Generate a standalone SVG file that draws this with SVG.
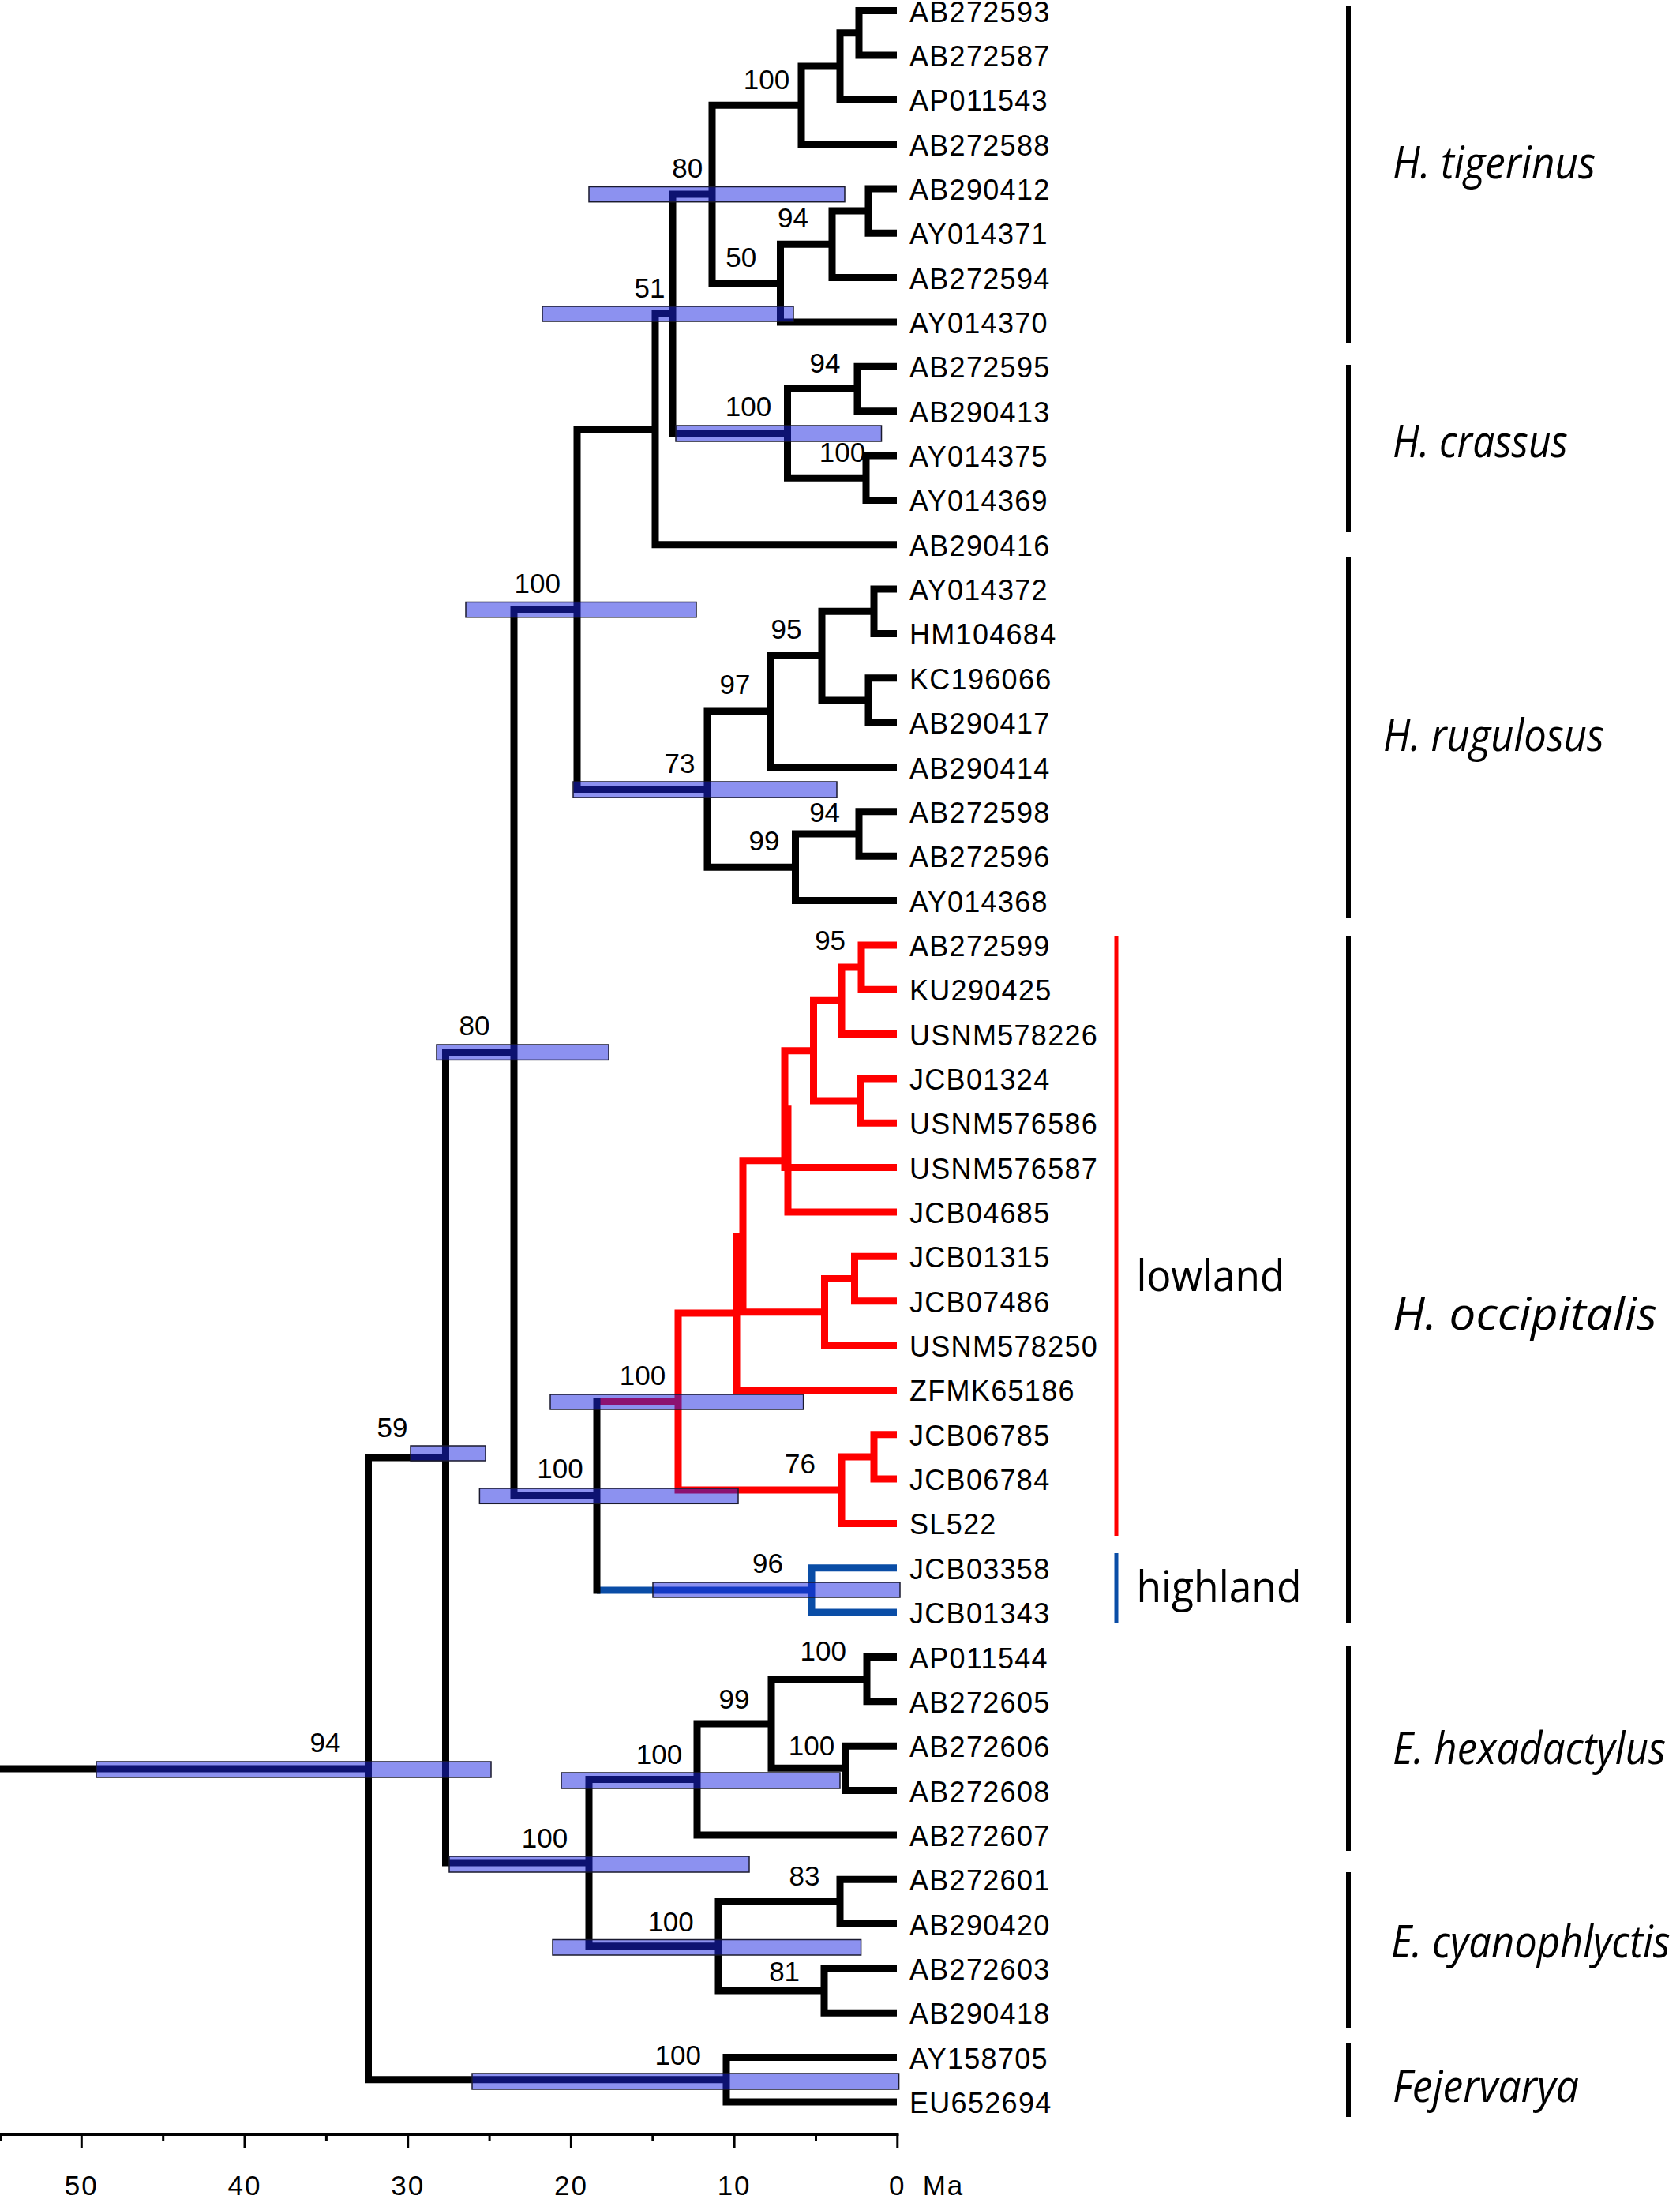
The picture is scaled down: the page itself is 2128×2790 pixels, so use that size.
<svg xmlns="http://www.w3.org/2000/svg" width="2128" height="2790" viewBox="0 0 2128 2790">
<style>
.br{fill:none;stroke:#000;stroke-width:9;stroke-linejoin:miter;stroke-linecap:butt}
.red{stroke:#ff0000}
.blu{stroke:#0a4da6}
.bar{fill:rgb(25,35,225);fill-opacity:0.5;stroke:#1a1a2e;stroke-width:1.5}
.tip{font-family:"Liberation Sans",Arial,sans-serif;font-size:36px;letter-spacing:1.3px;fill:#000}
.sup{font-family:"Liberation Sans",Arial,sans-serif;font-size:35px;fill:#000;text-anchor:middle}
.ax{font-family:"Liberation Sans",Arial,sans-serif;font-size:35px;letter-spacing:2px;fill:#000;text-anchor:middle}
.sp{font-family:"Open Sans","Noto Sans",sans-serif;font-style:italic;font-size:56px;fill:#000}
.hab{font-family:"Open Sans","Noto Sans",sans-serif;font-size:54px;fill:#000}
.cl{stroke:#000;stroke-width:6}
</style>
<rect width="2128" height="2790" fill="#fff"/>
<g id="connectors">
<path class="br" d="M1136 13.5H1088V69.9H1136"/>
<path class="br" d="M1088 41.7H1064V126.2H1136"/>
<path class="br" d="M1064 83.9H1015V182.6H1136"/>
<path class="br" d="M1136 238.9H1100V295.3H1136"/>
<path class="br" d="M1100 267.1H1054V351.6H1136"/>
<path class="br" d="M1054 309.3H988.5V408H1136"/>
<path class="br" d="M1015 133.2H902V358.6H988.5"/>
<path class="br" d="M1136 464.3H1086V520.7H1136"/>
<path class="br" d="M1136 577H1097V633.4H1136"/>
<path class="br" d="M1086 492.5H997.5V605.2H1097"/>
<path class="br" d="M902 245.9H852V548.8H997.5"/>
<path class="br" d="M852 397.4H830V689.7H1136"/>
<path class="br" d="M1136 746.1H1107V802.4H1136"/>
<path class="br" d="M1136 858.8H1100V915.1H1136"/>
<path class="br" d="M1107 774.2H1041V886.9H1100"/>
<path class="br" d="M1041 830.6H975.5V971.5H1136"/>
<path class="br" d="M1136 1027.8H1088V1084.2H1136"/>
<path class="br" d="M1088 1056H1007.5V1140.5H1136"/>
<path class="br" d="M975.5 901H896V1098.2H1007.5"/>
<path class="br" d="M830 543.5H731V999.6H896"/>
<path class="br" d="M731 771.6H651V1894.5H756"/>
<path class="br" d="M651 1333H564.5V2359H746"/>
<path class="br" d="M883 2253.4H746V2464.7H910"/>
<path class="br" d="M977 2183H883V2323.9H1136"/>
<path class="br" d="M1098 2126.6H977V2239.3H1071.5"/>
<path class="br" d="M1136 2098.5H1098V2154.8H1136"/>
<path class="br" d="M1136 2211.2H1071.5V2267.5H1136"/>
<path class="br" d="M1064 2408.4H910V2521.1H1044"/>
<path class="br" d="M1136 2380.2H1064V2436.6H1136"/>
<path class="br" d="M1136 2492.9H1044V2549.3H1136"/>
<path class="br" d="M1136 2605.6H920V2662H1136"/>
<path class="br" d="M564.5 1846H466.5V2633.8H920"/>
<path class="br" d="M0 2240H466.5"/>
<path class="br red" d="M756 1775H859"/>
<path class="br blu" d="M756 2013.9H1028"/>
<path class="br" style="stroke-linecap:square" d="M756 1775V2013.9"/>
<path class="br red" d="M933 1663H859V1887.1H1066"/>
<path class="br red" d="M941 1565.8H933V1760.4H1136"/>
<path class="br red" d="M998 1469.8H941V1661.7H1044.5"/>
<path class="br red" d="M994 1404.7H998V1535H1136"/>
<path class="br red" d="M1030.5 1330.7H994V1478.6H1136"/>
<path class="br red" d="M1066 1267.3H1030.5V1394.1H1090.5"/>
<path class="br red" d="M1091 1225H1066V1309.6H1136"/>
<path class="br red" d="M1136 1196.9H1091V1253.2H1136"/>
<path class="br red" d="M1136 1365.9H1090.5V1422.3H1136"/>
<path class="br red" d="M1082.5 1619.5H1044.5V1704H1136"/>
<path class="br red" d="M1136 1591.3H1082.5V1647.7H1136"/>
<path class="br red" d="M1107 1845H1066V1929.4H1136"/>
<path class="br red" d="M1136 1816.7H1107V1873.1H1136"/>
<path class="br blu" d="M1136 1985.8H1028V2042.1H1136"/>
</g>
<g id="hpd-bars">
<rect class="bar" x="746" y="236.5" width="324" height="19.2"/>
<rect class="bar" x="687" y="388" width="318" height="19"/>
<rect class="bar" x="856" y="539" width="260.5" height="20"/>
<rect class="bar" x="590" y="762.5" width="292" height="19.3"/>
<rect class="bar" x="726" y="990" width="334" height="20"/>
<rect class="bar" x="553" y="1323" width="218" height="19.4"/>
<rect class="bar" x="697" y="1766" width="320.6" height="19"/>
<rect class="bar" x="520" y="1831" width="95" height="19"/>
<rect class="bar" x="607.4" y="1885" width="327.6" height="19.3"/>
<rect class="bar" x="827" y="2004" width="313" height="19"/>
<rect class="bar" x="122" y="2231" width="500" height="20"/>
<rect class="bar" x="711" y="2245" width="353" height="20"/>
<rect class="bar" x="569" y="2351" width="380" height="20"/>
<rect class="bar" x="700" y="2456.5" width="390.6" height="19.5"/>
<rect class="bar" x="598" y="2626" width="540.6" height="20"/>
</g>
<g id="support">
<text class="sup" x="971" y="112.5">100</text>
<text class="sup" x="870.8" y="225">80</text>
<text class="sup" x="1004.4" y="288">94</text>
<text class="sup" x="938.7" y="337.5">50</text>
<text class="sup" x="823" y="376.5">51</text>
<text class="sup" x="1045" y="471.5">94</text>
<text class="sup" x="948" y="527">100</text>
<text class="sup" x="1067" y="585.4">100</text>
<text class="sup" x="680.7" y="751">100</text>
<text class="sup" x="996" y="809">95</text>
<text class="sup" x="931" y="878.6">97</text>
<text class="sup" x="861" y="978.6">73</text>
<text class="sup" x="1044.6" y="1041">94</text>
<text class="sup" x="968" y="1076.8">99</text>
<text class="sup" x="1051.6" y="1203">95</text>
<text class="sup" x="601" y="1311">80</text>
<text class="sup" x="814" y="1754.4">100</text>
<text class="sup" x="497" y="1819.6">59</text>
<text class="sup" x="709.5" y="1872">100</text>
<text class="sup" x="1013.5" y="1865.5">76</text>
<text class="sup" x="972.4" y="1991.6">96</text>
<text class="sup" x="1042.8" y="2102.7">100</text>
<text class="sup" x="930" y="2163.8">99</text>
<text class="sup" x="1028" y="2223">100</text>
<text class="sup" x="412" y="2219">94</text>
<text class="sup" x="835" y="2234">100</text>
<text class="sup" x="690" y="2340">100</text>
<text class="sup" x="1019" y="2388">83</text>
<text class="sup" x="849.6" y="2445.5">100</text>
<text class="sup" x="993.6" y="2509">81</text>
<text class="sup" x="858.7" y="2615">100</text>
</g>
<g id="taxa">
<g id="t-AB272593"><text class="tip" x="1152" y="27.5">AB272593</text></g>
<g id="t-AB272587"><text class="tip" x="1152" y="83.9">AB272587</text></g>
<g id="t-AP011543"><text class="tip" x="1152" y="140.2">AP011543</text></g>
<g id="t-AB272588"><text class="tip" x="1152" y="196.6">AB272588</text></g>
<g id="t-AB290412"><text class="tip" x="1152" y="252.9">AB290412</text></g>
<g id="t-AY014371"><text class="tip" x="1152" y="309.3">AY014371</text></g>
<g id="t-AB272594"><text class="tip" x="1152" y="365.6">AB272594</text></g>
<g id="t-AY014370"><text class="tip" x="1152" y="422">AY014370</text></g>
<g id="t-AB272595"><text class="tip" x="1152" y="478.3">AB272595</text></g>
<g id="t-AB290413"><text class="tip" x="1152" y="534.7">AB290413</text></g>
<g id="t-AY014375"><text class="tip" x="1152" y="591">AY014375</text></g>
<g id="t-AY014369"><text class="tip" x="1152" y="647.4">AY014369</text></g>
<g id="t-AB290416"><text class="tip" x="1152" y="703.7">AB290416</text></g>
<g id="t-AY014372"><text class="tip" x="1152" y="760.1">AY014372</text></g>
<g id="t-HM104684"><text class="tip" x="1152" y="816.4">HM104684</text></g>
<g id="t-KC196066"><text class="tip" x="1152" y="872.8">KC196066</text></g>
<g id="t-AB290417"><text class="tip" x="1152" y="929.1">AB290417</text></g>
<g id="t-AB290414"><text class="tip" x="1152" y="985.5">AB290414</text></g>
<g id="t-AB272598"><text class="tip" x="1152" y="1041.8">AB272598</text></g>
<g id="t-AB272596"><text class="tip" x="1152" y="1098.2">AB272596</text></g>
<g id="t-AY014368"><text class="tip" x="1152" y="1154.5">AY014368</text></g>
<g id="t-AB272599"><text class="tip" x="1152" y="1210.9">AB272599</text></g>
<g id="t-KU290425"><text class="tip" x="1152" y="1267.2">KU290425</text></g>
<g id="t-USNM578226"><text class="tip" x="1152" y="1323.6">USNM578226</text></g>
<g id="t-JCB01324"><text class="tip" x="1152" y="1379.9">JCB01324</text></g>
<g id="t-USNM576586"><text class="tip" x="1152" y="1436.3">USNM576586</text></g>
<g id="t-USNM576587"><text class="tip" x="1152" y="1492.6">USNM576587</text></g>
<g id="t-JCB04685"><text class="tip" x="1152" y="1549">JCB04685</text></g>
<g id="t-JCB01315"><text class="tip" x="1152" y="1605.3">JCB01315</text></g>
<g id="t-JCB07486"><text class="tip" x="1152" y="1661.7">JCB07486</text></g>
<g id="t-USNM578250"><text class="tip" x="1152" y="1718">USNM578250</text></g>
<g id="t-ZFMK65186"><text class="tip" x="1152" y="1774.4">ZFMK65186</text></g>
<g id="t-JCB06785"><text class="tip" x="1152" y="1830.7">JCB06785</text></g>
<g id="t-JCB06784"><text class="tip" x="1152" y="1887.1">JCB06784</text></g>
<g id="t-SL522"><text class="tip" x="1152" y="1943.4">SL522</text></g>
<g id="t-JCB03358"><text class="tip" x="1152" y="1999.8">JCB03358</text></g>
<g id="t-JCB01343"><text class="tip" x="1152" y="2056.1">JCB01343</text></g>
<g id="t-AP011544"><text class="tip" x="1152" y="2112.5">AP011544</text></g>
<g id="t-AB272605"><text class="tip" x="1152" y="2168.8">AB272605</text></g>
<g id="t-AB272606"><text class="tip" x="1152" y="2225.2">AB272606</text></g>
<g id="t-AB272608"><text class="tip" x="1152" y="2281.5">AB272608</text></g>
<g id="t-AB272607"><text class="tip" x="1152" y="2337.9">AB272607</text></g>
<g id="t-AB272601"><text class="tip" x="1152" y="2394.2">AB272601</text></g>
<g id="t-AB290420"><text class="tip" x="1152" y="2450.6">AB290420</text></g>
<g id="t-AB272603"><text class="tip" x="1152" y="2506.9">AB272603</text></g>
<g id="t-AB290418"><text class="tip" x="1152" y="2563.3">AB290418</text></g>
<g id="t-AY158705"><text class="tip" x="1152" y="2619.6">AY158705</text></g>
<g id="t-EU652694"><text class="tip" x="1152" y="2676">EU652694</text></g>
</g>
<g id="habitat">
<g id="lowland"><line x1="1414" y1="1186" x2="1414" y2="1945" stroke="#ff0000" stroke-width="5"/><text class="hab" x="1439.5" y="1635" textLength="188" lengthAdjust="spacingAndGlyphs">lowland</text></g>
<g id="highland"><line x1="1414" y1="1967" x2="1414" y2="2056" stroke="#0a4da6" stroke-width="5"/><text class="hab" x="1439.5" y="2029" textLength="209" lengthAdjust="spacingAndGlyphs">highland</text></g>
</g>
<g id="clades">
<g id="c-tigerinus"><line class="cl" x1="1708" y1="7" x2="1708" y2="435"/><text class="sp" x="1764" y="226" textLength="257" lengthAdjust="spacingAndGlyphs">H. tigerinus</text></g>
<g id="c-crassus"><line class="cl" x1="1708" y1="462" x2="1708" y2="674"/><text class="sp" x="1764" y="579" textLength="222" lengthAdjust="spacingAndGlyphs">H. crassus</text></g>
<g id="c-rugulosus"><line class="cl" x1="1708" y1="705" x2="1708" y2="1163"/><text class="sp" x="1752" y="951" textLength="280" lengthAdjust="spacingAndGlyphs">H. rugulosus</text></g>
<g id="c-occipitalis"><line class="cl" x1="1708" y1="1186" x2="1708" y2="2056"/><text class="sp" x="1764" y="1684" textLength="335" lengthAdjust="spacingAndGlyphs">H. occipitalis</text></g>
<g id="c-hexadactylus"><line class="cl" x1="1708" y1="2085" x2="1708" y2="2344"/><text class="sp" transform="translate(1764 2234) scale(0.85 1)" x="0" y="0" textLength="407" lengthAdjust="spacingAndGlyphs">E. hexadactylus</text></g>
<g id="c-cyanophlyctis"><line class="cl" x1="1708" y1="2371" x2="1708" y2="2568"/><text class="sp" transform="translate(1762 2479) scale(0.85 1)" x="0" y="0" textLength="416" lengthAdjust="spacingAndGlyphs">E. cyanophlyctis</text></g>
<g id="c-Fejervarya"><line class="cl" x1="1708" y1="2588" x2="1708" y2="2681"/><text class="sp" x="1764" y="2662" textLength="236" lengthAdjust="spacingAndGlyphs">Fejervarya</text></g>
</g>
<g id="axis">
<path d="M0 2703H1138.5" stroke="#000" stroke-width="4" fill="none"/>
<path d="M1136.8 2703v17M930.1 2703v17M723.4 2703v17M516.7 2703v17M310 2703v17M103.3 2703v17" stroke="#000" stroke-width="3"/>
<path d="M1033.5 2703v9M826.8 2703v9M620.1 2703v9M413.4 2703v9M206.7 2703v9M1.5 2703v9" stroke="#000" stroke-width="3"/>
<text class="ax" x="1136.8" y="2780">0</text>
<text class="ax" x="930.1" y="2780">10</text>
<text class="ax" x="723.4" y="2780">20</text>
<text class="ax" x="516.7" y="2780">30</text>
<text class="ax" x="310" y="2780">40</text>
<text class="ax" x="103.3" y="2780">50</text>
<text class="ax" x="1195" y="2780">Ma</text>
</g>
</svg>
